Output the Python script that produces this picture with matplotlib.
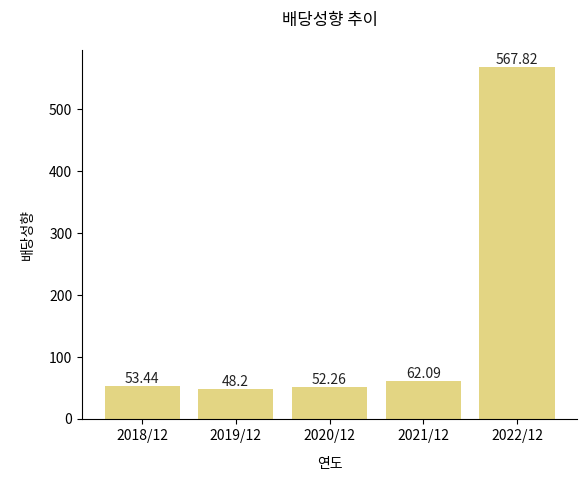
import matplotlib.pyplot as plt

plt.rcParams['font.family'] = ['Noto Sans CJK KR', 'DejaVu Sans']

years = ['2018/12', '2019/12', '2020/12', '2021/12', '2022/12']
payout = [53.44, 48.2, 52.26, 62.09, 567.82]
labels = ['53.44', '48.2', '52.26', '62.09', '567.82']

fig = plt.figure(figsize=(5.86, 4.79), dpi=100)
ax = fig.add_axes([82 / 586, 60 / 479, 495 / 586, 369 / 479])
bars = ax.bar(years, payout, color='#e3d583', width=0.8)
for b, t in zip(bars, labels):
    ax.text(b.get_x() + b.get_width() / 2, b.get_height(), t,
            ha='center', va='bottom', fontsize=10, color='#222')

ax.set_ylim(0, 596)
ax.spines['top'].set_visible(False)
ax.spines['right'].set_visible(False)
ax.tick_params(labelsize=10)
ax.set_xlabel('연도', fontsize=10, labelpad=10)
ax.set_ylabel('배당성향', fontsize=10, labelpad=10)
ax.set_title('배당성향 추이', fontsize=12, pad=18)

fig.savefig('out.png', dpi=100, facecolor='white')
